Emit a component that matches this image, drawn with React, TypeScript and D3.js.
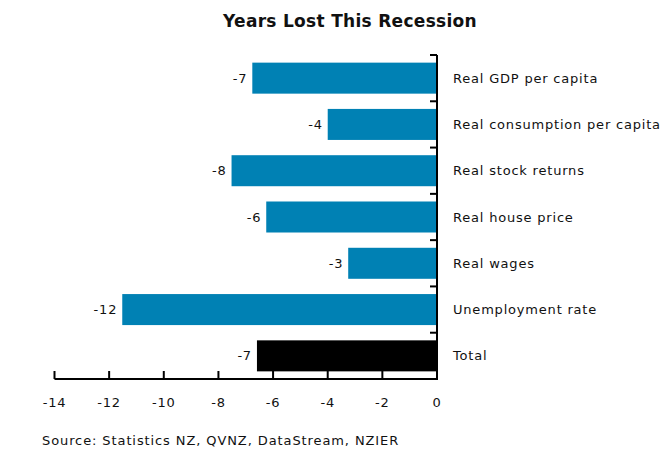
import React from "react";
import * as d3 from "d3";

const categories = [
  "Real GDP per capita",
  "Real consumption per capita",
  "Real stock returns",
  "Real house price",
  "Real wages",
  "Unemployment rate",
  "Total",
];
const values = [-6.76, -4.0, -7.52, -6.25, -3.25, -11.52, -6.59];
const barColors = ["#0081B4", "#0081B4", "#0081B4", "#0081B4", "#0081B4", "#0081B4", "#000000"];
const xTickValues = [-14, -12, -10, -8, -6, -4, -2, 0];
const title = "Years Lost This Recession";
const source = "Source: Statistics NZ, QVNZ, DataStream, NZIER";

const W = 672;
const H = 470;
const FONT = "'DejaVu Sans', Verdana, sans-serif";
const LS = 0.8;

export default function App() {
  const x = d3.scaleLinear().domain([-14, 0]).range([54.5, 437]);
  const y = d3
    .scaleBand<string>()
    .domain(categories)
    .range([55, 379])
    .paddingInner(0.33)
    .paddingOuter(0.165);
  const step = y.step();
  const boundaries = d3.range(categories.length + 1).map((i) => 55 + i * step);
  const axisY = 379;
  const fmt = (v: number) => v.toFixed(0);

  return (
    <svg
      width={W}
      height={H}
      style={{ position: "absolute", left: 0, top: 0, background: "#fff" }}
      fontFamily={FONT}
    >
      <text x={350} y={27} textAnchor="middle" fontSize={17} fontWeight="bold" fill="#111" letterSpacing={0.3}>
        {title}
      </text>
      {categories.map((c, i) => {
        const v = values[i];
        const by = y(c)!;
        return (
          <g key={c}>
            <rect
              x={x(v)}
              y={by}
              width={x(0) - x(v)}
              height={y.bandwidth()}
              fill={barColors[i]}
            />
            <text
              x={x(v) - 5}
              y={by + y.bandwidth() / 2}
              dy="0.35em"
              textAnchor="end"
              fontSize={13}
              letterSpacing={LS}
              fill="#111"
            >
              {fmt(v)}
            </text>
            <text
              x={453}
              y={by + y.bandwidth() / 2}
              dy="0.35em"
              textAnchor="start"
              fontSize={13}
              letterSpacing={LS}
              fill="#111"
            >
              {c}
            </text>
          </g>
        );
      })}
      {/* vertical axis */}
      <line x1={x(0)} x2={x(0)} y1={55} y2={axisY} stroke="#000" strokeWidth={2} />
      {boundaries.map((b, i) => (
        <line key={"vt" + i} x1={x(0) - 7} x2={x(0)} y1={b} y2={b} stroke="#000" strokeWidth={2} />
      ))}
      {/* horizontal axis */}
      <line x1={x(-14)} x2={x(0) + 1} y1={axisY} y2={axisY} stroke="#000" strokeWidth={2} />
      {xTickValues.map((t) => (
        <g key={"xt" + t}>
          <line x1={x(t)} x2={x(t)} y1={axisY - 8} y2={axisY} stroke="#000" strokeWidth={2} />
          <text x={x(t)} y={402} dy="0.35em" textAnchor="middle" fontSize={13} letterSpacing={LS} fill="#111">
            {t}
          </text>
        </g>
      ))}
      <text x={42} y={440} dy="0.35em" fontSize={13} letterSpacing={0.9} fill="#111">
        {source}
      </text>
    </svg>
  );
}
